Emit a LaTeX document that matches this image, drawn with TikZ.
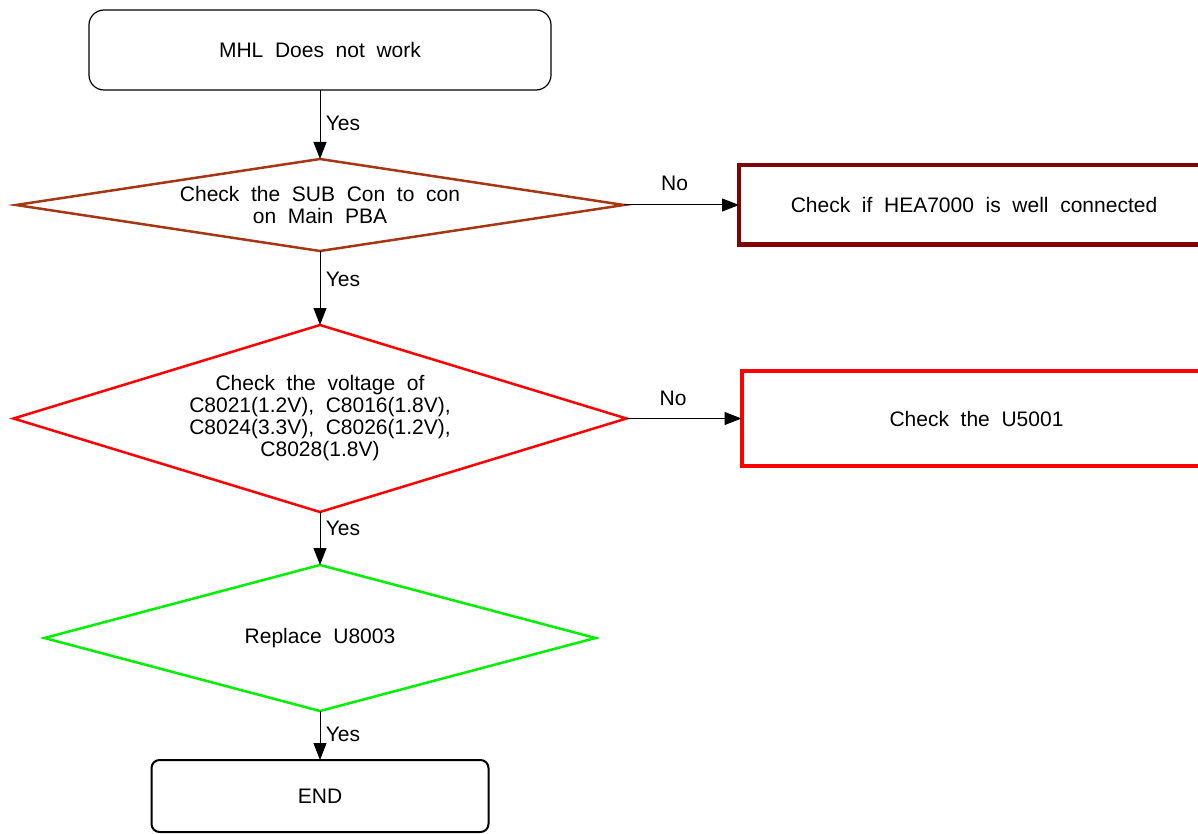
\documentclass[tikz,border=0pt]{standalone}
\usepackage{fontspec}
\setmainfont{Liberation Sans}[WordSpace=2]
\usepackage{xcolor}
\usetikzlibrary{shapes.geometric, arrows.meta, positioning}

\definecolor{conbrown}{RGB}{165,55,20}
\definecolor{heared}{RGB}{130,0,0}
\definecolor{voltred}{RGB}{255,0,0}
\definecolor{okgreen}{RGB}{0,240,0}

\begin{document}
\begin{tikzpicture}[
    x=1pt, y=-1pt,
    font=\fontsize{21}{22}\selectfont,
    node distance=70pt,
    termbox/.style={rectangle, draw=black, rounded corners=15pt, line width=1.2pt, outer sep=0pt, minimum width=462pt, minimum height=80pt, align=center},
    checkbox/.style={rectangle, line width=4pt, outer sep=0pt, minimum width=470pt, align=center},
    decision/.style={diamond, line width=2.5pt, inner sep=0pt, outer sep=0pt, align=center},
    arrow/.style={line width=1pt, -{Triangle[length=17pt, width=13pt]}},
    answer/.style={font=\fontsize{21}{22}\selectfont}
]
\useasboundingbox (0,0) rectangle (1198,834);

    % Start: fault description
    \node (start) [termbox] at (320,50) {MHL Does not work};

    % Decision 1: sub connector
    \node (subcon) [decision, draw=conbrown, minimum width=608pt, minimum height=92pt, aspect=6.6, below=69pt of start] {
        Check the SUB Con to con\\on Main PBA
    };
    \node (hea) [checkbox, draw=heared, minimum height=79pt, right=115pt of subcon] {Check if HEA7000 is well connected};

    % Decision 2: supply voltages
    \node (volt) [decision, draw=voltred, minimum width=613pt, minimum height=187pt, aspect=3.28, below=74pt of subcon] {
        Check the voltage of\\
        C8021(1.2V), C8016(1.8V),\\
        C8024(3.3V), C8026(1.2V),\\
        C8028(1.8V)
    };
    \node (ufive) [checkbox, draw=voltred, minimum height=95pt, right=115pt of volt] {Check the U5001};

    % Decision 3: replace part
    \node (replace) [decision, draw=okgreen, minimum width=551pt, minimum height=146pt, aspect=3.77, below=53pt of volt] {Replace U8003};

    % End
    \node (finish) [termbox, rounded corners=8pt, line width=2pt, minimum width=337pt, minimum height=72pt, below=49pt of replace] {END};

    % Connecting Arrows
    \draw [arrow] (start.south) -- (subcon.north) node[pos=0.49, right, xshift=2pt, answer] {Yes};
    \draw [arrow] (subcon.east) -- (hea.west) node[midway, above=10pt, xshift=-7pt, answer] {No};
    \draw [arrow] (subcon.south) -- (volt.north) node[pos=0.39, right, xshift=2pt, answer] {Yes};
    \draw [arrow] (volt.east) -- (ufive.west) node[midway, above=9pt, xshift=-11pt, answer] {No};
    \draw [arrow] (volt.south) -- (replace.north) node[pos=0.3, right, xshift=2pt, answer] {Yes};
    \draw [arrow] (replace.south) -- (finish.north) node[pos=0.47, right, xshift=2pt, answer] {Yes};

\end{tikzpicture}
\end{document}
